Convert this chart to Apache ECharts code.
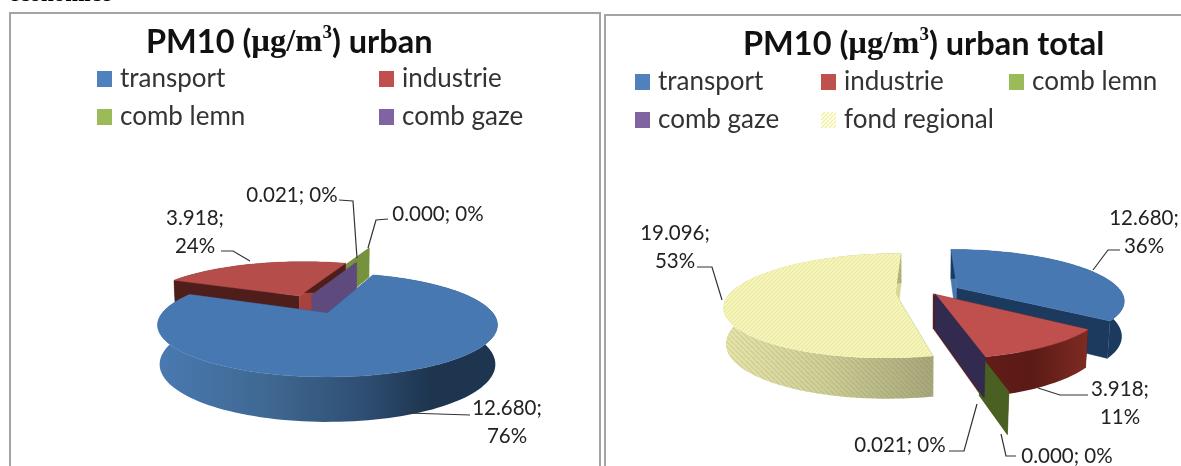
<!DOCTYPE html>
<html><head><meta charset="utf-8">
<style>html,body{margin:0;padding:0;background:#fff}#c{width:1181px;height:466px}</style>
<script src="https://cdn.jsdelivr.net/npm/echarts@6/dist/echarts.min.js"></script>
</head><body><div id="c"></div>
<script>
// ---- data ----
const categories = ['transport', 'industrie', 'comb lemn', 'comb gaze', 'fond regional'];
const urbanValues = [12.680, 3.918, 0.000, 0.021];
const urbanPercents = [76, 24, 0, 0];
const totalValues = [12.680, 3.918, 0.000, 0.021, 19.096];
const totalPercents = [36, 11, 0, 0, 53];
const legendColors = ['#4f81bd', '#c0504d', '#9bbb59', '#8064a2', '#f2f2a0'];

// ---- layout and style ----
function hatch(bg, fg) {
  const s = 4, cv = document.createElement('canvas');
  cv.width = cv.height = s;
  const g = cv.getContext('2d');
  g.fillStyle = bg; g.fillRect(0, 0, s, s);
  g.strokeStyle = fg; g.lineWidth = 1.2;
  for (let i = -s; i <= s; i += s) { g.beginPath(); g.moveTo(i, s); g.lineTo(i + s, 0); g.stroke(); }
  return { image: cv, repeat: 'repeat' };
}
function hatchAlpha(fg) {
  const s = 5, cv = document.createElement('canvas');
  cv.width = cv.height = s;
  const g = cv.getContext('2d');
  g.strokeStyle = fg; g.lineWidth = 1.6;
  for (let i = -s; i <= s; i += s) { g.beginPath(); g.moveTo(i, 0); g.lineTo(i + s, s); g.stroke(); }
  return { image: cv, repeat: 'repeat' };
}
const grad = (x0, x1, stops) => ({ type: 'linear', global: true, x: x0, y: 0, x2: x1, y2: 0,
  colorStops: stops.map(s => ({ offset: s[0], color: s[1] })) });

const urbanView = {
  cx: 327.5, cy: 313, a: 165.4, b: 49.2, k: 0.2308, c: 0.05, cs: 0.012, h: 40, start: 19.6,
  order: [2, 1, 3, 0],
  shift: [[0, 0], [-0.185, -0.375], [0.035, -0.96], [-0.103, -0.40]],
  inner: [0, 0, 0, 0],
  top: ['#4878b2', '#b54e4a', '#76923c', '#5f4a7d'],
  wall: [grad(157, 497, [[0, '#4a7ab2'], [0.35, '#3e668f'], [0.6, '#2f4f74'], [0.8, '#1e3550'], [1, '#1e3550']]),
         '#4f1d1a', '#76923c', '#5f4a7d'],
  faceA: ['#2a466a', '#4f1d1a', '#76923c', '#5f4a7d'],
  faceB: ['#2a466a', '#a8423f', '#76923c', '#5f4a7d'],
  overlay: []
};
const totalView = {
  cx: 925, cy: 290, a: 163, b: 48, k: 0.23, c: 0.05, cs: 0.012, h: 36, start: 0,
  order: [4, 0, 1, 2, 3],
  shift: [[0.198, -0.05], [0.05, 0.08], [0.126, 0.45], [0.06, 0.08], [-0.178, 0.07]],
  inner: [0, 0, 0.6, 0, 0],
  top: ['#4878b2', '#bf504d', '#4a5f22', '#332a4f', hatch('#f7f7bc', '#e8e8a2')],
  wall: ['#1c3a5e', grad(975, 1085, [[0, '#641d18'], [0.5, '#5a1a16'], [1, '#7c2a22']]), '#4a5f22', '#332a4f',
         grad(722, 927, [[0, '#e8e8ac'], [0.5, '#d0d098'], [1, '#aaaa7e']])],
  faceA: ['#4878b2', '#5a1a16', '#4a5f22', '#332a4f', '#aaaa7e'],
  faceB: ['#1c3a5e', '#5a1a16', '#4a5f22', '#332a4f', '#d8d898'],
  overlay: [null, null, null, null, hatchAlpha('rgba(110,110,70,0.15)')]
};

const urbanNotes = [
  { i: 0, lines: 2, x: 507, y: 408, lh: 28, leader: [[407, 413], [470, 415]] },
  { i: 1, lines: 2, x: 195, y: 218, lh: 28, leader: [[250, 261], [233, 251], [221, 251]] },
  { i: 2, lines: 1, x: 438, y: 214, lh: 0, leader: [[368, 248], [376, 220], [388, 219]] },
  { i: 3, lines: 1, x: 292, y: 195, lh: 0, leader: [[357, 258], [353, 201], [339, 200]] }
];
const totalNotes = [
  { i: 0, lines: 2, x: 1144, y: 218, lh: 28, leader: [[1093, 270], [1108, 250], [1120, 250]] },
  { i: 1, lines: 2, x: 1120, y: 389, lh: 28, leader: [[1038, 388], [1060, 395], [1088, 395]] },
  { i: 2, lines: 1, x: 1067, y: 456, lh: 0, leader: [[1001, 434], [1006, 456], [1016, 456]] },
  { i: 3, lines: 1, x: 900, y: 445, lh: 0, leader: [[977, 404], [964, 451], [949, 451]] },
  { i: 4, lines: 2, x: 675, y: 233, lh: 28, leader: [[722, 300], [712, 267], [697, 267]] }
];

// ---- drawing through the library's custom series ----
function project(view, u, v, z) {
  const w = 1 - view.k * v;
  return [view.cx + view.a * u / (w + view.cs * z), view.cy + (view.b * v + view.h * z) / (w + view.c * z)];
}
function rim(view, shift, deg, z, radius) {
  const r = deg * Math.PI / 180, q = radius === undefined ? 1 : radius;
  return project(view, shift[0] + q * Math.sin(r), shift[1] - q * Math.cos(r), z);
}
function poly(points, fill, stroke) {
  return { type: 'polygon', silent: true, shape: { points },
    style: { fill, stroke: stroke || fill, lineWidth: 0.4 } };
}
function sliceSeries(view, values, idx, order) {
  const total = values.reduce((a, b) => a + b, 0);
  const before = values.slice(0, idx).reduce((a, b) => a + b, 0);
  return {
    type: 'custom', name: categories[idx], coordinateSystem: 'none', z: 2 + order, silent: true,
    animation: false, clip: false,
    itemStyle: { color: legendColors[idx] },
    data: [[values[idx], before, total]],
    renderItem(params, api) {
      const val = api.value(0), a0 = view.start + api.value(1) / api.value(2) * 360;
      const sweep = val / api.value(2) * 360, a1 = a0 + sweep;
      const sh = view.shift[idx], n = Math.max(2, Math.ceil(sweep / 2)), q = view.inner[idx];
      const arc = z => Array.from({ length: n + 1 }, (_, j) => rim(view, sh, a0 + sweep * j / n, z));
      const apex = z => project(view, sh[0], sh[1], z);
      const face = (deg, fill) => poly([rim(view, sh, deg, 0, q), rim(view, sh, deg, 0), rim(view, sh, deg, 1), rim(view, sh, deg, 1, q)], fill);
      const kids = [face(a0, view.faceA[idx]), face(a1, view.faceB[idx])];
      if (sweep > 1) {
        const ribbon = arc(0).concat(arc(1).reverse());
        kids.push(poly(ribbon, view.wall[idx], 'none'));
        if (view.overlay[idx]) kids.push(poly(ribbon, view.overlay[idx], 'none'));
        kids.push(poly([apex(0)].concat(arc(0)), view.top[idx], typeof view.top[idx] === 'string' ? null : 'none'));
      }
      return { type: 'group', children: kids };
    }
  };
}
function noteSeries(name, values, percents, notes) {
  return {
    type: 'custom', name: name + ' labels', coordinateSystem: 'none', z: 40, silent: true,
    animation: false, clip: false, data: notes.map(n => [values[n.i], percents[n.i], notes.indexOf(n)]),
    renderItem(params, api) {
      const n = notes[api.value(2)];
      const num = api.value(0).toFixed(3), pct = api.value(1) + '%';
      const kids = [{ type: 'polyline', silent: true, shape: { points: n.leader },
        style: { fill: 'none', stroke: '#333', lineWidth: 1.2 } }];
      const texts = n.lines === 2 ? [num + ';', pct] : [num + '; ' + pct];
      texts.forEach((t, j) => kids.push({ type: 'text', silent: true, x: n.x, y: n.y + j * n.lh,
        style: { text: t, fill: '#222', font: '20.5px Lato, "Open Sans", sans-serif', textAlign: 'center', textVerticalAlign: 'middle' } }));
      return { type: 'group', children: kids };
    }
  };
}
function titleText(tail) { return '{a|PM10 (}{b|\u00b5g/m}{s|3}{a|) ' + tail + '}'; }
const titleRich = {
  a: { fontFamily: 'Lato', fontWeight: 'bold', fontSize: 32.5, color: '#111', lineHeight: 38 },
  b: { fontFamily: 'Liberation Serif', fontWeight: 'bold', fontSize: 32.5, color: '#111', lineHeight: 38 },
  s: { fontFamily: 'Liberation Serif', fontWeight: 'bold', fontSize: 19, color: '#111', verticalAlign: 'top', lineHeight: 30, padding: [0, 0, 10, 0] }
};
const legendText = { fontFamily: 'Lato', fontSize: 26, color: '#333', padding: [0, 0, 0, 3] };
function column(x, y, names) {
  return { left: x, top: y, orient: 'vertical', icon: 'rect', itemWidth: 15, itemHeight: 16, itemGap: 12,
    selectedMode: false, textStyle: legendText, padding: 0,
    data: names.map(nm => nm === 'fond regional'
      ? { name: nm, itemStyle: { color: hatch('#ffffff', '#f0f080') } } : { name: nm }) };
}

const series = [];
urbanView.order.forEach((idx, o) => series.push(sliceSeries(urbanView, urbanValues, idx, o)));
totalView.order.forEach((idx, o) => series.push(sliceSeries(totalView, totalValues, idx, o + 10)));
series.push(noteSeries('urban', urbanValues, urbanPercents, urbanNotes));
series.push(noteSeries('total', totalValues, totalPercents, totalNotes));

const chart = echarts.init(document.getElementById('c'), null, { renderer: 'canvas' });
chart.setOption({
  backgroundColor: '#fff',
  animation: false,
  tooltip: { show: false },
  title: [
    { text: titleText('urban'), left: 146, top: 24, padding: 0, textStyle: { rich: titleRich } },
    { text: titleText('urban total'), left: 743, top: 26, padding: 0, textStyle: { rich: titleRich } }
  ],
  legend: [
    column(97, 66, ['transport', 'comb lemn']),
    column(379, 66, ['industrie', 'comb gaze']),
    column(635, 69, ['transport', 'comb gaze']),
    column(821, 69, ['industrie', 'fond regional']),
    column(1009, 69, ['comb lemn'])
  ],
  graphic: [
    { type: 'rect', silent: true, z: 0, shape: { x: 10, y: 13, width: 590, height: 470 },
      style: { fill: 'none', stroke: '#a4a4a4', lineWidth: 2 } },
    { type: 'rect', silent: true, z: 0, shape: { x: 605, y: 15, width: 600, height: 470 },
      style: { fill: 'none', stroke: '#a4a4a4', lineWidth: 2 } },
    { type: 'text', silent: true, z: 1, x: 9, y: -16,
      style: { text: 'economice', fill: '#000', font: 'bold 23px "Liberation Serif"' } }
  ],
  series
});
</script></body></html>
